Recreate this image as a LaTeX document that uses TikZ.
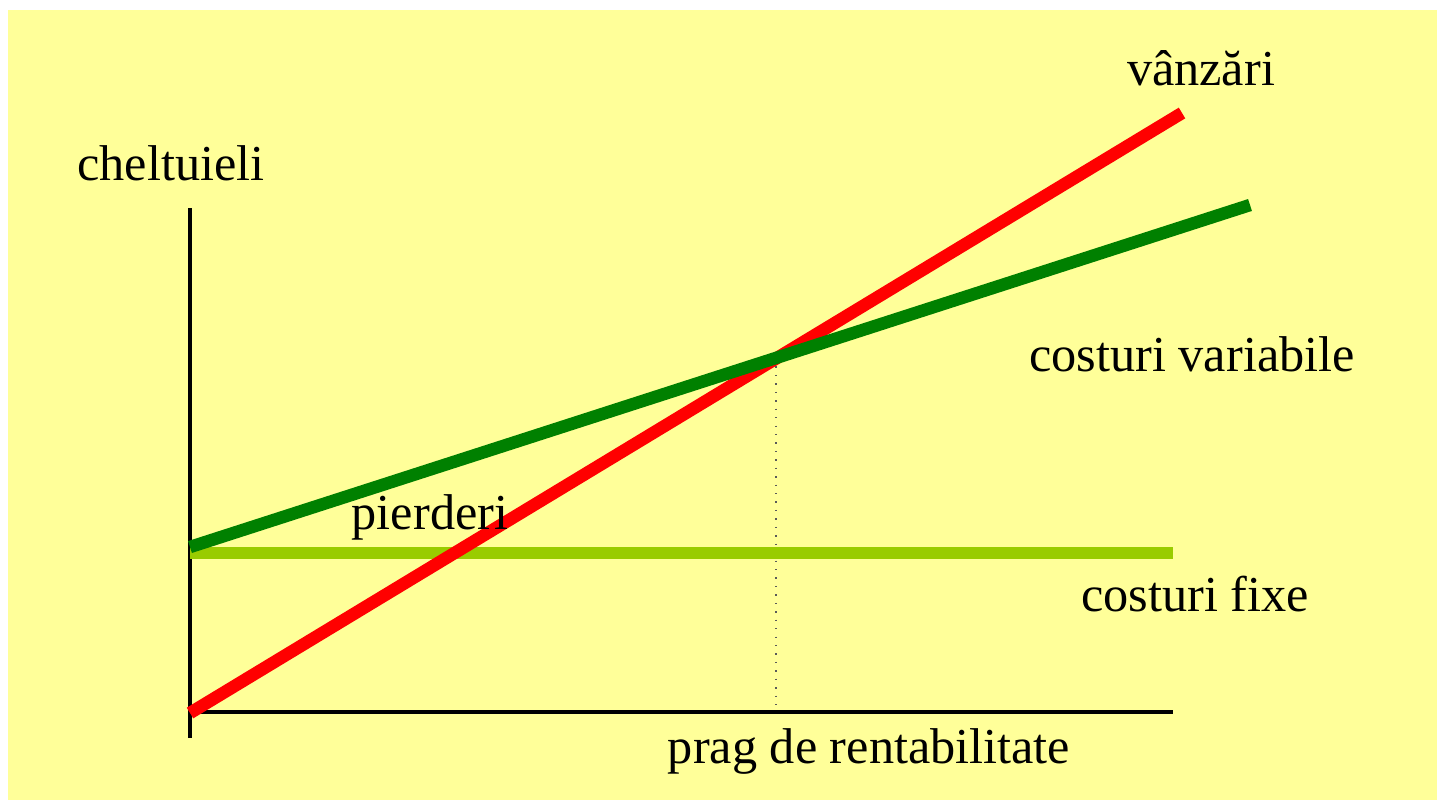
\documentclass[tikz,border=0pt]{standalone}
\usepackage{fontspec}
\setmainfont{Liberation Serif}
\definecolor{bgyellow}{HTML}{FFFF99}
\definecolor{salesred}{HTML}{FF0000}
\definecolor{vargreen}{HTML}{008000}
\definecolor{fixgreen}{HTML}{99CC00}
\tikzset{
  lbl/.style={inner sep=0pt, font=\fontsize{14.3}{17}\selectfont},
  costline/.style={line width=0.125cm, line cap=butt}
}
\begin{document}
\begin{tikzpicture}[x=0.01cm, y=-0.01cm]

% Canvas and background
\useasboundingbox (0,0) rectangle (1437,800);
\fill[white] (0,0) rectangle (1437,800);
\fill[bgyellow] (8,10) rectangle (1437,800);

% Define the coordinates of the axes
\coordinate (O) at (190,712);
\coordinate (Ytop) at (190,208);
\coordinate (Ybot) at (190,738);
\coordinate (Xend) at (1173,712);

% Define the end points of the lines
\coordinate (S0) at (190,713);
\coordinate (S1) at (1182,113);
\coordinate (V0) at (190,547);
\coordinate (V1) at (1250,205);
\coordinate (F0) at (190,553);
\coordinate (F1) at (1173,553);
\coordinate (P) at (776,358);
\coordinate (Pbase) at (776,712);

% Draw the axes
% Vertical axis
\draw[line width=1.1pt] (Ytop) -- (Ybot);
% Horizontal axis
\draw[line width=1.1pt] (O) -- (Xend);

% Break-even marker (dotted)
\draw[gray!70!black, dotted, line width=0.4pt] (P) -- (Pbase);

% Fixed costs
\draw[costline, fixgreen] (F0) -- (F1);
% Sales
\draw[costline, salesred] (S0) -- (S1);
% Variable costs
\draw[costline, vargreen] (V0) -- (V1);

% Label the axes and the lines
\node[lbl] (cheltuieli) at (171,163) {cheltuieli};
\node[lbl] (vanzari) at (1201,68) {vânzări};
\node[lbl] (variabile) at (1192,354) {costuri variabile};
\node[lbl] (pierderi) at (430,517) {pierderi};
\node[lbl] (fixe) at (1195,594) {costuri fixe};
\node[lbl] (prag) at (869,751) {prag de rentabilitate};

\end{tikzpicture}
\end{document}
